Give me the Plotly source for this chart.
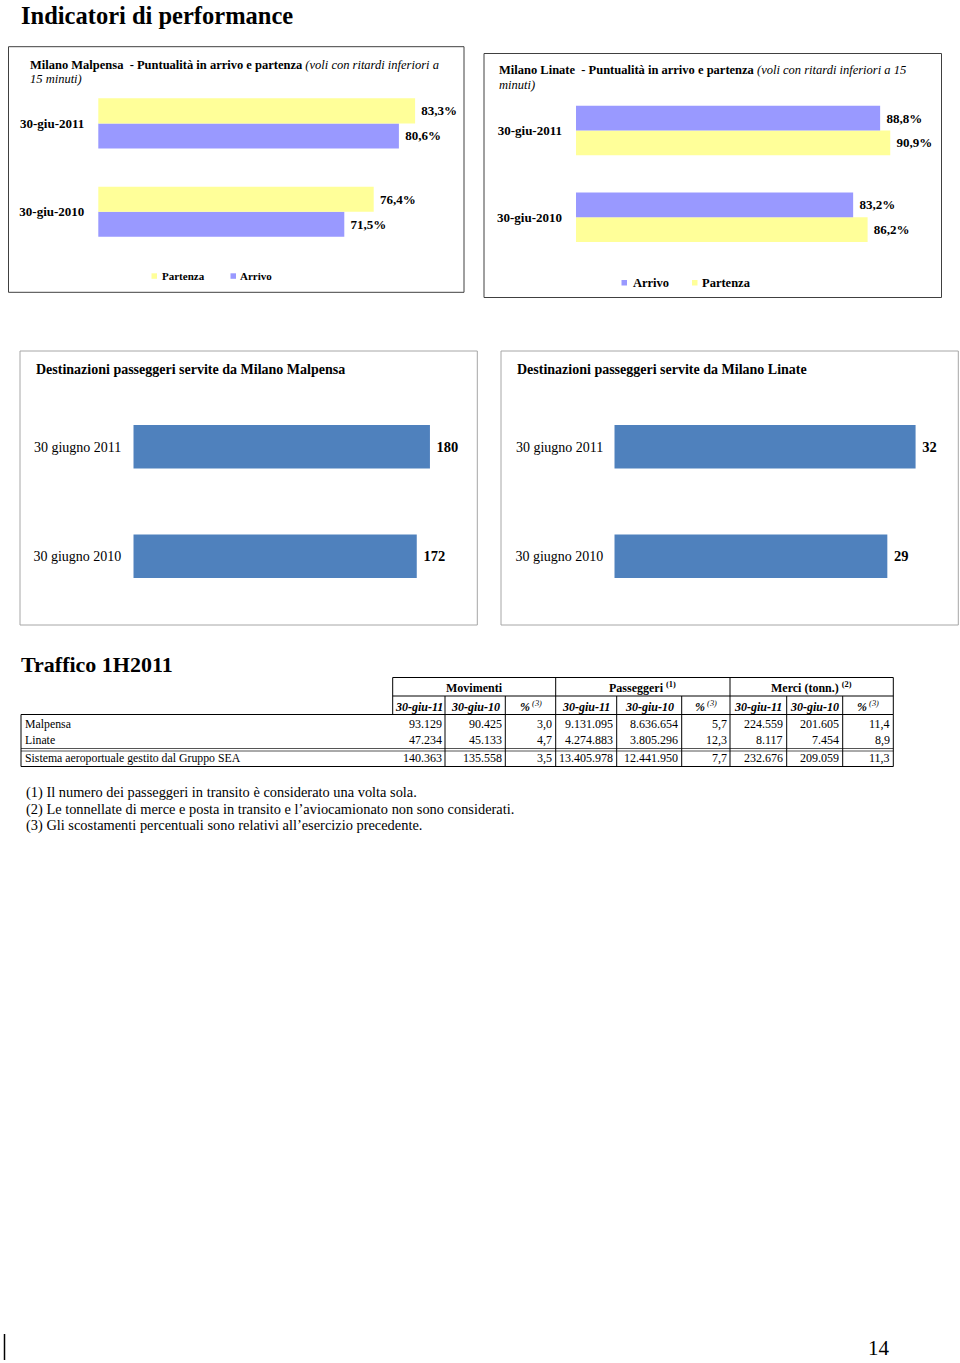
import plotly.graph_objects as go

W, H = 960, 1363
def px(x): return x / W
def py(y): return 1 - y / H

# ---------------- DATA ----------------
punct_cats = ["30-giu-2010", "30-giu-2011"]
mxp_partenza = [76.4, 83.3]
mxp_arrivo = [71.5, 80.6]
lin_arrivo = [83.2, 88.8]
lin_partenza = [86.2, 90.9]

dest_cats = ["30 giugno 2010", "30 giugno 2011"]
mxp_dest = [172, 180]
lin_dest = [29, 32]

table_groups = ["Movimenti", "Passeggeri <sup>(1)</sup>", "Merci (tonn.) <sup>(2)</sup>"]
table_subheads = ["30-giu-11", "30-giu-10", "%"] * 3
row_labels = ["Malpensa", "Linate", "Sistema aeroportuale gestito dal Gruppo SEA"]
malpensa_vals = [93129, 90425, 3.0, 9131095, 8636654, 5.7, 224559, 201605, 11.4]
linate_vals = [47234, 45133, 4.7, 4274883, 3805296, 12.3, 8117, 7454, 8.9]
sea_vals = [140363, 135558, 3.5, 13405978, 12441950, 7.7, 232676, 209059, 11.3]
table_rows = [malpensa_vals, linate_vals, sea_vals]

footnotes = [
    "(1) Il numero dei passeggeri in transito è considerato una volta sola.",
    "(2) Le tonnellate di merce e posta in transito e l’aviocamionato non sono considerati.",
    "(3) Gli scostamenti percentuali sono relativi all’esercizio precedente.",
]

# ---------------- STYLE ----------------
SERIF = "Liberation Serif"
YEL = "#FFFF99"
PUR = "#9999FF"
BLU = "#4F81BD"

fig = go.Figure()
annotations = []
shapes = []

def ann(text, x, y, size=12, xanchor="left", yanchor="middle", weight="normal", **kw):
    annotations.append(dict(text=text, x=px(x), y=py(y), xref="paper", yref="paper",
                            xanchor=xanchor, yanchor=yanchor, showarrow=False,
                            font=dict(family=SERIF, size=size, color="black", weight=weight),
                            **kw))

def line(x0, y0, x1, y1, color="black", width=1):
    shapes.append(dict(type="line", xref="paper", yref="paper",
                       x0=px(x0), y0=py(y0), x1=px(x1), y1=py(y1),
                       line=dict(color=color, width=width)))

def rect(x0, y0, x1, y1, line_color=None, fill=None, width=1):
    d = dict(type="rect", xref="paper", yref="paper",
             x0=px(x0), y0=py(y1), x1=px(x1), y1=py(y0),
             line=dict(color=line_color or "rgba(0,0,0,0)", width=width if line_color else 0))
    if fill:
        d["fillcolor"] = fill
    shapes.append(d)

def add_hbar(name, cats, vals, color, n, width, offset, tmpl, size):
    sfx = "" if n == 1 else str(n)
    fig.add_trace(go.Bar(
        y=cats, x=vals, orientation="h", name=name,
        marker=dict(color=color, line=dict(width=0)),
        width=width, offset=offset, xaxis="x" + sfx, yaxis="y" + sfx,
        texttemplate=tmpl, textposition="outside", constraintext="none",
        textfont=dict(family=SERIF, size=size, color="black", weight="bold"),
        showlegend=False, hoverinfo="skip"))

def set_axes(n, xdom, xrange, ydom, cats, tsize, tweight, standoff):
    sfx = "" if n == 1 else str(n)
    fig.update_layout(**{
        "xaxis" + sfx: dict(domain=[px(xdom[0]), px(xdom[1])], range=xrange, visible=False,
                            anchor="y" + sfx, fixedrange=True),
        "yaxis" + sfx: dict(domain=[py(ydom[1]), py(ydom[0])], type="category",
                            categoryorder="array", categoryarray=cats, range=[-0.5, 1.5],
                            showgrid=False, zeroline=False, showline=False, ticks="",
                            ticklabelstandoff=standoff,
                            tickfont=dict(family=SERIF, size=tsize, color="black", weight=tweight),
                            anchor="x" + sfx, fixedrange=True),
    })

# ---------- Chart 1: Malpensa punctuality ----------
w1 = 25 / 88.3
add_hbar("Arrivo", punct_cats, mxp_arrivo, PUR, 1, w1, -w1, "\u00a0%{x:.1f}%", 13)
add_hbar("Partenza", punct_cats, mxp_partenza, YEL, 1, w1, 0, "\u00a0%{x:.1f}%", 13)
set_axes(1, (98.3, 462), [30.5, 30.5 + (462 - 98.3) / 6.0], (79.2, 255.9), punct_cats, 13, "bold", 13)

# ---------- Chart 2: Linate punctuality ----------
w2 = 24.7 / 86.7
add_hbar("Partenza", punct_cats, lin_partenza, YEL, 2, w2, -w2, "\u00a0%{x:.1f}%", 13)
add_hbar("Arrivo", punct_cats, lin_arrivo, PUR, 2, w2, 0, "\u00a0%{x:.1f}%", 13)
set_axes(2, (576, 938), [25.7, 25.7 + (938 - 576) / 4.82], (87.2, 260.6), punct_cats, 13, "bold", 13)

# ---------- Chart 3: Malpensa destinations ----------
w3 = 43.5 / 109.6
add_hbar("Destinazioni", dest_cats, mxp_dest, BLU, 3, w3, -w3 / 2, "\u00a0%{x}", 14.5)
set_axes(3, (133.3, 475), [0, (475 - 133.3) / 1.648], (391.9, 611.1), dest_cats, 14, "normal", 11)

# ---------- Chart 4: Linate destinations ----------
add_hbar("Destinazioni", dest_cats, lin_dest, BLU, 4, w3, -w3 / 2, "\u00a0%{x}", 14.5)
set_axes(4, (614.3, 955), [0, (955 - 614.3) / 9.415], (391.9, 611.1), dest_cats, 14, "normal", 10)

# ---------- Chart frames ----------
rect(8.5, 46.7, 464, 292.3, line_color="#404040")
rect(484, 53.5, 941.5, 297.5, line_color="#404040")
rect(20, 351, 477.3, 625, line_color="#A6A6A6")
rect(501, 351, 958.3, 625, line_color="#A6A6A6")

# ---------- Titles ----------
ann("<b>Indicatori di performance</b>", 19, 0, size=24.5, yanchor="top")

ann("<b>Milano Malpensa  - Puntualità in arrivo e partenza</b> <i>(voli con ritardi inferiori a</i>", 28, 65, size=12.5)
ann("<i>15 minuti)</i>", 28, 79, size=12.5)
ann("<b>Milano Linate  - Puntualità in arrivo e partenza</b> <i>(voli con ritardi inferiori a 15</i>", 496.5, 70.5, size=12.5)
ann("<i>minuti)</i>", 496.5, 85, size=12.5)

ann("<b>Destinazioni passeggeri servite da Milano Malpensa</b>", 34, 369.5, size=14)
ann("<b>Destinazioni passeggeri servite da Milano Linate</b>", 515, 369.5, size=14)

# ---------- Legends (chart 1 & 2) ----------
rect(151.5, 273.3, 157, 278.8, fill=YEL)
ann("<b>Partenza</b>", 160.3, 276, size=11)
rect(230.5, 273.3, 236, 278.8, fill=PUR)
ann("<b>Arrivo</b>", 238.3, 276, size=11)

rect(621.5, 280, 627, 285.5, fill=PUR)
ann("<b>Arrivo</b>", 630.7, 282.7, size=12.5)
rect(692, 280, 697.5, 285.5, fill=YEL)
ann("<b>Partenza</b>", 699.7, 282.7, size=12.5)

# ---------- Table ----------
ann("<b>Traffico 1H2011</b>", 18.5, 664, size=22)

col_x = [392.7, 445, 505.3, 555.7, 616.7, 681.7, 730, 786.7, 842.7, 893.3]
label_x0 = 21
y_top, y_h1, y_h2, y_d1, y_d2, y_bot = 677.5, 696, 714.5, 748.5, 751, 766.5
row_y = [724, 740, 758.5]

# horizontal lines
line(col_x[0], y_top, col_x[-1], y_top)
line(col_x[0], y_h1, col_x[-1], y_h1)
line(label_x0, y_h2, col_x[-1], y_h2)
line(label_x0, y_d1, col_x[-1], y_d1, color="#555555")
line(label_x0, y_d2, col_x[-1], y_d2, color="#555555")
line(label_x0, y_bot, col_x[-1], y_bot)
# vertical lines
for i in (0, 3, 6, 9):
    line(col_x[i], y_top, col_x[i], y_h1)
for xv in col_x:
    line(xv, y_h1, xv, y_h2)
for xv in col_x[1:]:
    line(xv, y_h2, xv, y_bot)
line(label_x0, y_h2, label_x0, y_bot)

# group headers
for g, name in enumerate(table_groups):
    xc = (col_x[3 * g] + col_x[3 * g + 3]) / 2
    ann("<b>" + name + "</b>", xc, 688, size=12, xanchor="center")
# sub headers
for j, sh in enumerate(table_subheads):
    xc = (col_x[j] + col_x[j + 1]) / 2
    if sh == "%":
        txt = "<b><i>%</i></b><i><sup> (3)</sup></i>"
    else:
        txt = "<b><i>" + sh + "</i></b>"
    ann(txt, xc, 706.5, size=12, xanchor="center")

def fmt(v, j):
    if j % 3 == 2:
        return f"{v:.1f}".replace(".", ",")
    return f"{int(v):,}".replace(",", ".")

for r, (lab, vals) in enumerate(zip(row_labels, table_rows)):
    ann(lab, 22.5, row_y[r], size=11.8)
    for j, v in enumerate(vals):
        ann(fmt(v, j), col_x[j + 1] - 1.5, row_y[r], size=12, xanchor="right")

# ---------- Footnotes ----------
for k, t in enumerate(footnotes):
    ann(t, 23.5, 792.5 + k * 16.5, size=14.4)

# ---------- Page footer ----------
line(4.5, 1334, 4.5, 1360, width=1.5)
ann("14", 892, 1348, size=21, xanchor="right")

fig.update_layout(
    width=W, height=H, autosize=False,
    margin=dict(l=0, r=0, t=0, b=0, pad=0),
    paper_bgcolor="white", plot_bgcolor="white",
    barmode="overlay", separators=",.",
    showlegend=False,
    annotations=annotations, shapes=shapes,
    font=dict(family=SERIF, color="black"),
)

fig.write_html("out.html", config={"displayModeBar": False})
